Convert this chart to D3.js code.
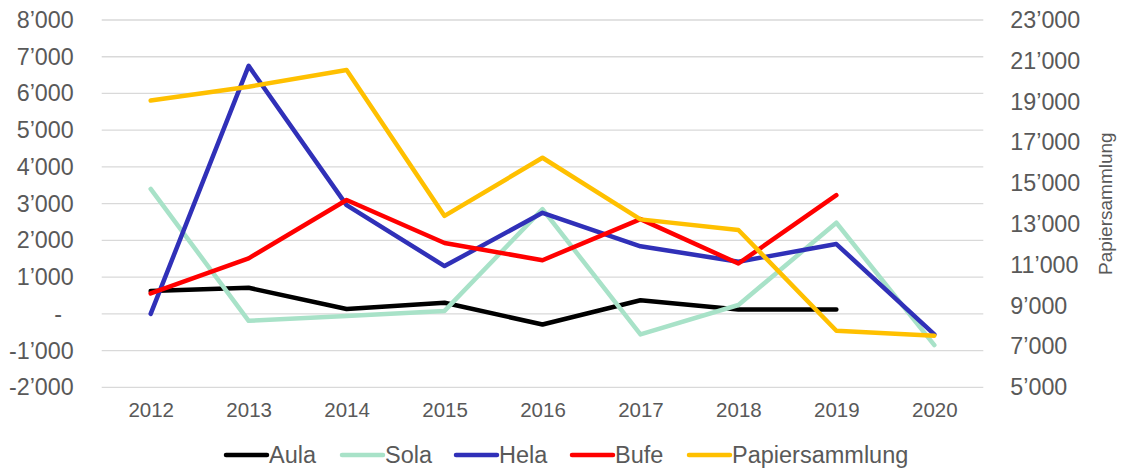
<!DOCTYPE html>
<html>
<head>
<meta charset="utf-8">
<script src="https://cdn.jsdelivr.net/npm/d3@7"></script>
<style>
  html, body { margin: 0; padding: 0; background: #fff; }
  svg { display: block; }
  text { font-family: "Liberation Sans", Arial, sans-serif; fill: #595959; }
</style>
</head>
<body>
<svg id="chart" width="1121" height="468"></svg>
<script>
const years = ["2012","2013","2014","2015","2016","2017","2018","2019","2020"];
const aula  = [620, 710, 130, 300, -290, 370, 120, 120, null];
const sola  = [3400, -190, -60, 80, 2850, -560, 240, 2480, -850];
const hela  = [0, 6750, 2960, 1300, 2750, 1840, 1420, 1900, -560];
const bufe  = [555, 1510, 3100, 1930, 1460, 2580, 1370, 3230, null];
const papier = [19050, 19730, 20550, 13400, 16250, 13230, 12710, 7770, 7530];

const leftTicks = [-2000,-1000,0,1000,2000,3000,4000,5000,6000,7000,8000];
const rightTicks = [5000,7000,9000,11000,13000,15000,17000,19000,21000,23000];

const seriesNames = ["Aula","Sola","Hela","Bufe","Papiersammlung"];
const seriesColors = ["#000000","#a8e2c8","#3030b8","#ff0000","#ffc000"];
const rightAxisTitle = "Papiersammlung";

const svg = d3.select("#chart");
const plot = {left: 101.7, right: 983.3, top: 20, bottom: 387.3};

const x = d3.scalePoint().domain(years).range([plot.left, plot.right]).padding(0.5);
const yL = d3.scaleLinear().domain([-2000, 8000]).range([plot.bottom, plot.top]);
const yR = d3.scaleLinear().domain([5000, 23000]).range([plot.bottom, plot.top]);

const fmt = v => {
  if (v === 0) return "-\u2002";
  const s = d3.format(",")(v);
  return s.replace(/,/g, "\u2019").replace("\u2212", "-");
};

// gridlines
svg.append("g").selectAll("line").data(leftTicks).join("line")
  .attr("x1", plot.left).attr("x2", plot.right)
  .attr("y1", d => yL(d)).attr("y2", d => yL(d))
  .attr("stroke", "#d9d9d9").attr("stroke-width", 1.3);

// left axis
const gl = svg.append("g").attr("transform", `translate(${plot.left},0)`)
  .call(d3.axisLeft(yL).tickValues(leftTicks).tickFormat(fmt).tickSize(0).tickPadding(28));
gl.select(".domain").remove();
gl.selectAll("text").style("font-size", "23.3px").style("fill", "#595959").attr("font-family", null);

// right axis
const gr = svg.append("g").attr("transform", `translate(${plot.right},0)`)
  .call(d3.axisRight(yR).tickValues(rightTicks).tickFormat(fmt).tickSize(0).tickPadding(27));
gr.select(".domain").remove();
gr.selectAll("text").style("font-size", "23.3px").style("fill", "#595959").attr("font-family", null);

// bottom axis
const gb = svg.append("g").attr("transform", `translate(0,${plot.bottom})`)
  .call(d3.axisBottom(x).tickSize(0).tickPadding(15));
gb.select(".domain").remove();
gb.selectAll("text").style("font-size", "20.5px").style("fill", "#595959").attr("font-family", null);

// right axis title
svg.append("text")
  .attr("transform", `translate(1112,${(plot.top + plot.bottom) / 2}) rotate(-90)`)
  .attr("text-anchor", "middle")
  .style("font-size", "19px")
  .text(rightAxisTitle);

// lines
const leftSeries = [aula, sola, hela, bufe];
const lineL = d3.line().defined(d => d.v !== null).x(d => x(d.year)).y(d => yL(d.v));
const lineR = d3.line().defined(d => d.v !== null).x(d => x(d.year)).y(d => yR(d.v));

leftSeries.forEach((vals, i) => {
  svg.append("path")
    .datum(vals.map((v, j) => ({year: years[j], v})))
    .attr("d", lineL)
    .attr("fill", "none")
    .attr("stroke", seriesColors[i])
    .attr("stroke-width", 4.5)
    .attr("stroke-linejoin", "round")
    .attr("stroke-linecap", "round");
});
svg.append("path")
  .datum(papier.map((v, j) => ({year: years[j], v})))
  .attr("d", lineR)
  .attr("fill", "none")
  .attr("stroke", seriesColors[4])
  .attr("stroke-width", 4.5)
  .attr("stroke-linejoin", "round")
  .attr("stroke-linecap", "round");

// legend
const legendX = [226, 342, 456, 572, 689];
const legendY = 455;
const lg = svg.append("g");
seriesNames.forEach((name, i) => {
  lg.append("line")
    .attr("x1", legendX[i]).attr("x2", legendX[i] + 41)
    .attr("y1", legendY).attr("y2", legendY)
    .attr("stroke", seriesColors[i]).attr("stroke-width", 4.5)
    .attr("stroke-linecap", "round");
  lg.append("text")
    .attr("x", legendX[i] + 43).attr("y", legendY + 8)
    .style("font-size", "23.5px")
    .text(name);
});
</script>
</body>
</html>
